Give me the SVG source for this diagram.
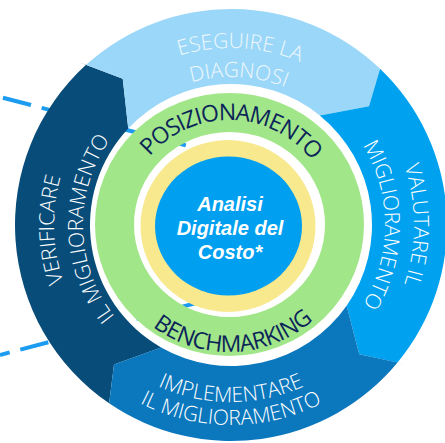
<svg xmlns="http://www.w3.org/2000/svg" width="445" height="443" viewBox="0 0 445 443">
<style>
.seg-t{font-family:"Open Sans","Liberation Sans",sans-serif;font-size:21px;font-weight:300;fill:#ffffff}
.light{fill:#EEF7FD}
.ring-t{font-family:"Open Sans","Liberation Sans",sans-serif;font-size:23px;fill:#0B2559}
.center-t{font-family:"Liberation Sans",Arial,sans-serif;font-weight:bold;font-style:italic;font-size:20px;fill:#ffffff;text-anchor:middle}
.dash{stroke:#1B9CF0;stroke-width:4;stroke-dasharray:29 11;fill:none}
</style>
<defs>
<path id="pTop1" d="M68.07,155.85 A177,177 0 0 1 400.27,173.25"/>
<path id="pTop2" d="M94.77,167.18 A148,148 0 0 1 372.53,181.72"/>
<path id="pRight1" d="M293.59,53.03 A183,183 0 0 1 293.59,396.97"/>
<path id="pRight2" d="M283.67,80.29 A154,154 0 0 1 283.67,369.71"/>
<path id="pLeft1" d="M174.84,392.85 A177,177 0 0 1 166.13,60.32"/>
<path id="pLeft2" d="M184.04,365.35 A148,148 0 0 1 176.76,87.30"/>
<path id="pBot1" d="M64.67,285.53 A177,177 0 0 0 397.33,285.53"/>
<path id="pBot2" d="M43.06,293.40 A200,200 0 0 0 418.94,293.40"/>
<path id="pPos" d="M126.04,204.43 A105,105 0 0 1 332.79,209.11"/>
<path id="pBench" d="M104.87,251.84 A127,127 0 0 0 354.82,242.23"/>
</defs>
<rect width="445" height="443" fill="#ffffff"/>
<g id="connectors">
<line class="dash" x1="0" y1="97" x2="200" y2="149" stroke-dashoffset="37"/>
<line class="dash" x1="0" y1="355" x2="200" y2="302" stroke-dashoffset="19"/>
</g>
<g id="verificare">
<path fill="#084D7A" d="M109.11,403.33 A216,216 0 0 1 86.06,64.86 L77.67,61.70 L122.75,78.69 L128.52,131.09 L128.24,128.46 A141,141 0 0 0 161.12,347.47 L114.01,364.41 Z"/>
<text class="seg-t"><textPath href="#pLeft1" startOffset="50%" text-anchor="middle">VERIFICARE</textPath></text>
<text class="seg-t"><textPath href="#pLeft2" startOffset="50%" text-anchor="middle">IL MIGLIORAMENTO</textPath></text>
</g>
<g id="eseguire">
<path fill="#9BD7F8" d="M86.06,64.86 A216,216 0 0 1 380.08,68.70 L382.63,60.11 L368.97,106.32 L317.15,115.91 L319.76,115.44 A141,141 0 0 0 128.24,128.46 L122.75,78.69 Z"/>
<text class="seg-t light"><textPath href="#pTop1" startOffset="50%" text-anchor="middle">ESEGUIRE LA</textPath></text>
<text class="seg-t light"><textPath href="#pTop2" startOffset="50%" text-anchor="middle">DIAGNOSI</textPath></text>
</g>
<g id="valutare">
<path fill="#00A2F0" d="M380.08,68.70 A216,216 0 0 1 397.56,362.53 L406.30,364.44 L359.24,354.15 L345.97,303.13 L346.63,305.69 A141,141 0 0 0 319.76,115.44 L368.97,106.32 Z"/>
<text class="seg-t"><textPath href="#pRight1" startOffset="50%" text-anchor="middle">VALUTARE IL</textPath></text>
<text class="seg-t"><textPath href="#pRight2" startOffset="50%" text-anchor="middle">MIGLIORAMENTO</textPath></text>
</g>
<g id="implementare">
<path fill="#0B77BD" d="M397.56,362.53 A216,216 0 0 1 109.11,403.33 L108.02,412.22 L114.01,364.41 L163.61,346.57 L161.12,347.47 A141,141 0 0 0 346.63,305.69 L359.24,354.15 Z"/>
<text class="seg-t"><textPath href="#pBot1" startOffset="50%" text-anchor="middle">IMPLEMENTARE</textPath></text>
<text class="seg-t"><textPath href="#pBot2" startOffset="50%" text-anchor="middle">IL MIGLIORAMENTO</textPath></text>
</g>
<g id="green-ring">
<ellipse cx="229.5" cy="224.5" rx="115" ry="112" fill="none" stroke="#A2E68A" stroke-width="39"/>
<text class="ring-t" letter-spacing="-1.2"><textPath href="#pPos" startOffset="50%" text-anchor="middle">POSIZIONAMENTO</textPath></text>
<text class="ring-t" letter-spacing="-0.6"><textPath href="#pBench" startOffset="50%" text-anchor="middle">BENCHMARKING</textPath></text>
</g>
<g id="center">
<ellipse cx="228" cy="226" rx="87.5" ry="86" fill="#F8E98E"/>
<ellipse cx="228.5" cy="226" rx="73.5" ry="69.5" fill="#009FEF"/>
<text class="center-t" x="230" y="211">Analisi</text>
<text class="center-t" x="230" y="235">Digitale del</text>
<text class="center-t" x="230" y="259">Costo*</text>
</g>
</svg>
